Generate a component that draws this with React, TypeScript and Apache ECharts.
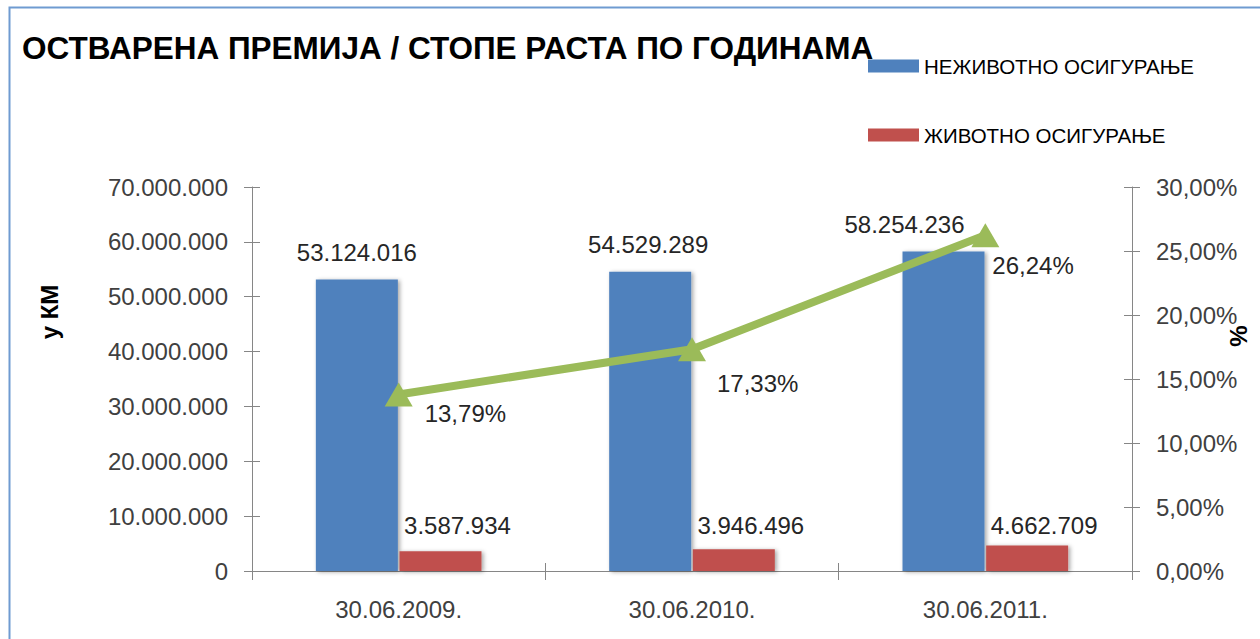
import React, { useEffect, useRef } from "react";
import * as echarts from "echarts";

const categories = ["30.06.2009.", "30.06.2010.", "30.06.2011."];
const nonLife = [53124016, 54529289, 58254236];
const life = [3587934, 3946496, 4662709];
const growth = [13.79, 17.33, 26.24];
const seriesNames = ["НЕЖИВОТНО ОСИГУРАЊЕ", "ЖИВОТНО ОСИГУРАЊЕ", "СТОПА РАСТА"];
const titleText = "ОСТВАРЕНА ПРЕМИЈА / СТОПЕ РАСТА ПО ГОДИНАМА";
const leftAxisName = "у КМ";
const rightAxisName = "%";

// label placement tweaks (layout, not data)
const nonLifeLabelOffsets = [[0, 0], [-2, 0], [-39, 0]];
const lifeLabelDistances = [14, 12, 8];
const growthLabelOffsets = [[26, 19], [25, 34], [7, 30]];

const FONT = "'Liberation Sans', Arial, sans-serif";

const fmtThousands = (v: number) =>
  Math.round(v).toString().replace(/\B(?=(\d{3})+(?!\d))/g, ".");
const fmtPct = (v: number) => v.toFixed(2).replace(".", ",") + "%";

export default function App() {
  const ref = useRef<HTMLDivElement>(null);
  useEffect(() => {
    if (!ref.current) return;
    const chart = echarts.init(ref.current, null, { renderer: "svg" });
    const axisColor = "#868686";
    const tickLabel = { fontSize: 24, color: "#404040", fontFamily: FONT };
    const barShadow = {
      shadowColor: "rgba(0,0,0,0.35)",
      shadowBlur: 4,
      shadowOffsetX: 2,
      shadowOffsetY: 1,
    };
    const option: any = {
      animation: false,
      backgroundColor: "#ffffff",
      title: {
        text: titleText,
        left: 22,
        top: 32,
        padding: 0,
        textStyle: { fontSize: 31.5, fontWeight: "bold", color: "#000", fontFamily: FONT },
      },
      legend: {
        data: [seriesNames[0], seriesNames[1]],
        orient: "vertical",
        left: 868,
        top: 54,
        padding: 0,
        icon: "rect",
        itemWidth: 51,
        itemHeight: 13,
        itemGap: 45,
        textStyle: { fontSize: 20.5, color: "#000", fontFamily: FONT, lineHeight: 24 },
      },
      grid: { left: 252, right: 128, top: 187, bottom: 68, containLabel: false },
      graphic: [
        {
          type: "rect",
          left: 7,
          top: 5,
          shape: { width: 1300, height: 700 },
          style: { fill: "none", stroke: "#6F9BD1", lineWidth: 2 },
          silent: true,
        },
        {
          type: "text",
          x: 49,
          y: 312,
          rotation: Math.PI / 2,
          style: {
            text: leftAxisName,
            fontSize: 24,
            fontWeight: "bold",
            fill: "#000",
            fontFamily: FONT,
            align: "center",
            verticalAlign: "middle",
          },
        },
        {
          type: "text",
          x: 1238,
          y: 336,
          rotation: Math.PI / 2,
          style: {
            text: rightAxisName,
            fontSize: 24,
            fontWeight: "bold",
            fill: "#000",
            fontFamily: FONT,
            align: "center",
            verticalAlign: "middle",
          },
        },
      ],
      xAxis: [
        {
          type: "category",
          data: categories,
          axisLine: { lineStyle: { color: axisColor, width: 1 } },
          axisTick: { show: true, length: 9, lineStyle: { color: axisColor } },
          axisLabel: { ...tickLabel, margin: 26 },
          splitLine: { show: false },
        },
        {
          type: "category",
          data: categories,
          position: "bottom",
          axisLine: { show: false },
          axisTick: { show: true, inside: true, length: 8, lineStyle: { color: axisColor } },
          axisLabel: { show: false },
          splitLine: { show: false },
        },
      ],
      yAxis: [
        {
          type: "value",
          position: "left",
          min: 0,
          max: 70000000,
          interval: 10000000,
          axisLine: { show: true, lineStyle: { color: axisColor } },
          axisTick: { show: true, length: 8, lineStyle: { color: axisColor } },
          axisLabel: { ...tickLabel, margin: 24, formatter: (v: number) => fmtThousands(v) },
          splitLine: { show: false },
        },
        {
          type: "value",
          position: "right",
          min: 0,
          max: 30,
          interval: 5,
          axisLine: { show: true, lineStyle: { color: axisColor } },
          axisTick: { show: true, length: 8, lineStyle: { color: axisColor } },
          axisLabel: { ...tickLabel, margin: 24, formatter: (v: number) => fmtPct(v) },
          splitLine: { show: false },
        },
        {
          type: "value",
          position: "left",
          min: 0,
          max: 70000000,
          interval: 10000000,
          axisLine: { show: false },
          axisTick: { show: true, inside: true, length: 8, lineStyle: { color: axisColor } },
          axisLabel: { show: false },
          splitLine: { show: false },
        },
        {
          type: "value",
          position: "right",
          min: 0,
          max: 30,
          interval: 5,
          axisLine: { show: false },
          axisTick: { show: true, inside: true, length: 8, lineStyle: { color: axisColor } },
          axisLabel: { show: false },
          splitLine: { show: false },
        },
      ],
      series: [
        {
          name: seriesNames[0],
          type: "bar",
          yAxisIndex: 0,
          barWidth: 82,
          barGap: "2%",
          itemStyle: { color: "#4F81BD", ...barShadow },
          label: {
            show: true,
            position: "top",
            distance: 15,
            fontSize: 24,
            color: "#262626",
            fontFamily: FONT,
            formatter: (p: any) => fmtThousands(p.value),
          },
          data: nonLife.map((v, i) => ({ value: v, label: { offset: nonLifeLabelOffsets[i] } })),
        },
        {
          name: seriesNames[1],
          type: "bar",
          yAxisIndex: 0,
          barWidth: 82,
          barGap: "2%",
          itemStyle: { color: "#C0504D", ...barShadow },
          label: {
            show: true,
            position: "top",
            offset: [17, 0],
            fontSize: 24,
            color: "#262626",
            fontFamily: FONT,
            formatter: (p: any) => fmtThousands(p.value),
          },
          data: life.map((v, i) => ({ value: v, label: { distance: lifeLabelDistances[i] } })),
        },
        {
          name: seriesNames[2],
          type: "line",
          yAxisIndex: 1,
          symbol: "triangle",
          symbolSize: [28, 24],
          lineStyle: { color: "#9BBB59", width: 8 },
          itemStyle: { color: "#9BBB59" },
          label: {
            show: true,
            position: "inside",
            align: "left",
            verticalAlign: "middle",
            fontSize: 24,
            color: "#262626",
            fontFamily: FONT,
            formatter: (p: any) => fmtPct(p.value),
          },
          data: growth.map((v, i) => ({ value: v, label: { offset: growthLabelOffsets[i] } })),
          z: 5,
        },
      ],
    };
    chart.setOption(option);
    return () => chart.dispose();
  }, []);
  return (
    <div
      ref={ref}
      style={{ position: "fixed", left: 0, top: 0, width: 1260, height: 639, background: "#fff" }}
    />
  );
}
